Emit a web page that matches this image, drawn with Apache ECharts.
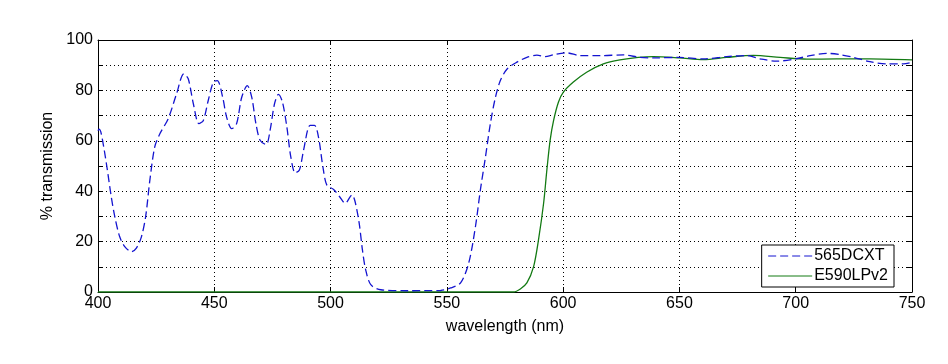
<!DOCTYPE html>
<html><head><meta charset="utf-8">
<script src="https://cdn.jsdelivr.net/npm/echarts@6/dist/echarts.min.js"></script>
<style>html,body{margin:0;padding:0;background:#fff}#c{width:948px;height:364px}</style>
</head><body><div id="c"></div>
<script>
var xTicks = [400, 450, 500, 550, 600, 650, 700, 750];
var yTicks = [0, 20, 40, 60, 80, 100];
var seriesNames = ['565DCXT', 'E590LPv2'];
var dcxtWl = [400,400.4,401.4,403.6,405.7,407.2,409.3,411.5,414.4,416.5,418.7,420.5,422.3,424.4,426.6,430.2,433.8,436.9,438.8,441,443.4,445.3,447.4,449.6,451.3,453.6,455.3,457.5,459.6,461.8,464.2,466.1,467.9,469.7,472.3,474,475.9,477.6,479.3,481.2,482.9,484.8,486.6,488.4,491.2,493.1,494.8,496.7,498.4,501.3,503.9,506.3,509.2,510.5,512.3,513.7,515.1,517.3,521.6,533,547.3,551.6,555.9,559.4,562.3,564.4,566.6,568.7,570.9,573,575.9,580.1,584.4,588.7,592.3,595.9,601.6,607.3,615.9,625.9,633,638.8,650,660.3,670.3,678.9,684.7,691.8,700,706.2,713.3,719,724.8,731.9,739.1,746.3,750];
var dcxtT  = [64,64.6,62.8,51,37.8,30,22,18,16,17.4,22,30,44.4,57.6,62.8,68.8,78.7,86.6,84.6,74.7,66.8,68.1,76,83.3,83.9,77.3,69.4,64.8,66.8,77.3,81.9,77.3,66.8,60.2,58.5,64.2,74.7,78.4,75.4,65.5,53.6,47.3,48.4,56.3,66.1,66.1,61.5,49.7,42.4,40.7,37.8,35.2,38.5,36,27.3,16.7,8.8,2.9,0.9,0.5,0.6,1.6,3.6,11.5,26,40.4,53.6,66.8,77.3,83.9,88.5,91.2,93.1,94,93.4,94.2,94.9,93.8,93.8,94.1,93.1,92.9,93.1,92.5,93.4,93.8,92.5,91.6,92.5,93.8,94.7,94.2,93.1,91.4,90.5,90.5,91.2];
var lpWl = [400,500,578.7,581.6,584.4,587.3,589.4,591.6,593,594.4,595.9,598,600.1,604.4,610.1,617.3,624.4,632.3,638.8,650,660.3,670.3,681.8,693.3,704.8,717.6,731.9,750];
var lpT  = [0,0,0,1.2,3.6,10.1,20.7,35.2,48.4,60.2,68.1,75.4,79.3,83.3,87.2,90.5,92.1,93.1,93.4,92.9,92.2,93.1,93.9,93.1,92.4,92.5,92.5,92.1];

function pairs(a, b){ return a.map(function(v,i){ return [v, b[i]]; }); }

var font = 'Liberation Sans, Arial, sans-serif';
var chart = echarts.init(document.getElementById('c'), null, {renderer:'canvas'});
var gridLine = {show:true, lineStyle:{color:'#000', type:[1,3], width:1}};
var axisLineS = {show:true, onZero:false, lineStyle:{color:'#000', width:1}};
chart.setOption({
  animation:false,
  backgroundColor:'#fff',
  grid:{left:98, right:36, top:40, bottom:72, containLabel:false},
  xAxis:[{
    type:'value', min:xTicks[0], max:xTicks[xTicks.length-1], interval:50,
    name:'wavelength (nm)', nameLocation:'middle', nameGap:27,
    nameTextStyle:{fontFamily:font, fontSize:16, color:'#000'},
    axisLine:axisLineS, axisTick:{show:true, inside:true, length:5, lineStyle:{color:'#000'}},
    axisLabel:{fontFamily:font, fontSize:16, color:'#000', margin:4},
    splitLine:gridLine
  },{
    type:'value', position:'top', min:xTicks[0], max:xTicks[xTicks.length-1], interval:50,
    axisLine:axisLineS, axisTick:{show:true, inside:true, length:5, lineStyle:{color:'#000'}},
    axisLabel:{show:false}, splitLine:{show:false}
  }],
  yAxis:[{
    type:'value', min:0, max:100, interval:10,
    name:'% transmission', nameLocation:'middle', nameGap:34, nameRotate:90,
    nameTextStyle:{fontFamily:font, fontSize:16, color:'#000'},
    axisLine:axisLineS, axisTick:{show:true, inside:true, length:5, lineStyle:{color:'#000'}},
    axisLabel:{fontFamily:font, fontSize:16, color:'#000', margin:5,
      formatter:function(v){ return yTicks.indexOf(v) >= 0 ? String(v) : ''; }},
    splitLine:gridLine
  },{
    type:'value', position:'right', min:0, max:100, interval:10,
    axisLine:axisLineS, axisTick:{show:true, inside:true, length:5, lineStyle:{color:'#000'}},
    axisLabel:{show:false}, splitLine:{show:false}
  }],
  legend:{
    right:54, bottom:77, orient:'vertical',
    backgroundColor:'#fff', borderColor:'#000', borderWidth:1, borderRadius:0,
    padding:[3,6,3,6], itemGap:4, itemWidth:44, itemHeight:14,
    itemStyle:{opacity:0},
    lineStyle:{width:1},
    textStyle:{fontFamily:font, fontSize:16, color:'#000', padding:[0,0,0,-3]},
    data:seriesNames
  },
  series:[{
    name:seriesNames[0], type:'line', data:pairs(dcxtWl, dcxtT), showSymbol:false, symbol:'none',
    smooth:0.3, lineStyle:{color:'#1414d0', width:1.3, type:[8,4]}, itemStyle:{color:'#1414d0'}, z:3
  },{
    name:seriesNames[1], type:'line', data:pairs(lpWl, lpT), showSymbol:false, symbol:'none',
    smooth:0.3, lineStyle:{color:'#137a13', width:1.3}, itemStyle:{color:'#137a13'}, z:2
  }]
});
</script></body></html>
